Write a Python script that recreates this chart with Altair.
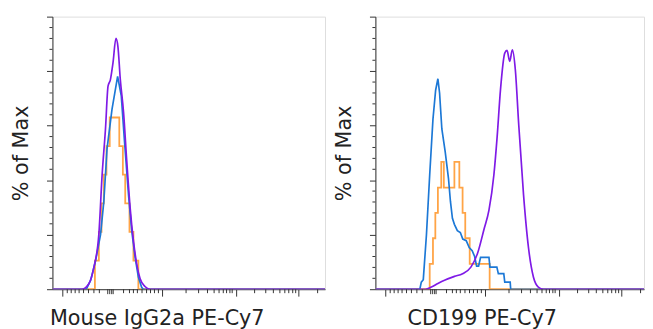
import altair as alt
import pandas as pd

# x positions are in biexponential display units (0 = left edge of the plot, 276 = right edge)
# y values are "% of Max"

# ---- Left panel: Mouse IgG2a PE-Cy7 ----
L_purple_x = [0, 30, 37, 42, 47, 50.3, 53.7, 56.3, 58.7, 61.3, 64.3, 66.3, 68.7, 72, 75.3, 78.7, 82, 85.3, 88.7, 93.7, 98.7, 276]
L_purple_y = [0, 0, 2.1, 8.1, 20.2, 41.9, 58.8, 74.5, 76.9, 83, 92, 89, 77, 64.9, 46.7, 29.8, 17.8, 9.3, 3.9, 1, 0, 0]

L_blue_x = [0, 34.3, 38.7, 43.7, 48.7, 52, 55.3, 60.3, 66, 69.7, 73, 77, 80.3, 83.7, 87, 90.3, 92, 276]
L_blue_y = [0, 0, 3.3, 10.5, 20, 32, 51.6, 66, 78.1, 70.9, 54, 34.7, 21.4, 11.7, 4.5, 0.7, 0, 0]

L_orange_x = [0, 43, 47, 49.7, 52, 54.7, 58, 67.7, 71.3, 73.7, 78, 82, 87, 276]
L_orange_y = [0, 10.5, 21, 31.5, 42, 52.5, 63, 52.5, 42, 31.5, 21, 10.5, 0, 0]

# ---- Right panel: CD199 PE-Cy7 ----
R_purple_x = [0, 50.7, 56.7, 63.3, 70, 80, 88.3, 96.7, 103.3, 110, 115, 120, 123.3, 126.7, 131, 133.3, 136, 138.7, 141.7, 145, 150, 155, 160, 165, 170, 272]
R_purple_y = [0, 0, 0.8, 2.1, 3.3, 4.7, 5.7, 8.1, 13, 22, 29, 42, 56, 73.3, 86.6, 87.6, 83.6, 87.8, 80.5, 61.2, 34.7, 15.3, 4.5, 0.8, 0, 0]

R_blue_x = [0, 45, 46.5, 48.5, 51.7, 55, 58.3, 61, 63.3, 65, 67.3, 70.7, 74, 76, 78, 80, 83, 86, 88.5, 92, 95, 98, 100.5,
            102.5, 104.5, 106.5, 115, 116, 123, 124.5, 130, 131, 136.5, 137, 272]
R_blue_y = [0, 0, 2.6, 3.5, 20, 42, 62.4, 73, 77.2, 72, 58.8, 50.4, 40.7, 32.2, 26, 23.8, 21.5, 20.8, 18.4, 17.8, 15.3, 14.1, 12,
            8.5, 8.5, 11.7, 11.7, 8.1, 8.1, 5.7, 5.7, 2.6, 2.6, 0, 0]

R_orange_x = [0, 55, 58.3, 60.7, 63.3, 66.7, 69.3, 80, 85, 88.3, 91, 95.5, 115.7, 272]
R_orange_y = [0, 9.3, 18.7, 28, 37.3, 46.7, 37.3, 46.7, 37.3, 28, 18.7, 9.3, 0, 0]

# ---- Axis ticks (biexponential decades) ----
x_major = [9.5, 111, 185.5, 249]
x_zero = [56, 58, 60, 61.5]
x_minor = [15, 19, 23, 27, 31.5, 36.5, 42, 47.5,
           72, 78, 82, 86, 90.7, 95.3, 99.3, 103.3, 107.3,
           135.3, 148, 157, 163.7, 168.7, 173, 176.3, 179.7, 182,
           204.7, 216, 223.7, 230.3, 235.3, 239.3, 243.3, 246.3, 268.5]
y_major = [0, 20, 40, 60, 80, 100]
y_minor = [v for v in range(4, 100, 4) if v % 20 != 0]

PURPLE = "#7F1AE6"
BLUE = "#1C78D6"
ORANGE = "#FFA446"
H = 276
FONT = "DejaVu Sans"


def panel(title_text, title_x, width, xmax, px, py, bx, by, ox, oy):
    xs = alt.Scale(domain=[0, xmax], nice=False, zero=False)
    ys = alt.Scale(domain=[0, 100], nice=False)
    xenc = alt.X("x:Q", scale=xs, axis=alt.Axis(
        values=x_major, tickSize=7, tickColor="#333", labels=False, grid=False,
        domainColor="#333", title=title_text, titleX=title_x, titleY=36,
        titleAlign="left", titleBaseline="alphabetic", titleFont=FONT,
        titleFontSize=21, titleFontWeight="normal", titleColor="#222"))
    yenc = alt.Y("y:Q", scale=ys, axis=alt.Axis(
        values=y_major, tickSize=6, tickColor="#333", labels=False, grid=False,
        domainColor="#333", title="% of Max", titleX=-25, titleY=H / 2,
        titleAngle=270, titleAlign="center", titleBaseline="alphabetic",
        titleFont=FONT, titleFontSize=21, titleFontWeight="normal", titleColor="#222"))

    def line(xv, yv, color, interp, sw):
        df = pd.DataFrame({"x": xv, "y": yv})
        return alt.Chart(df).mark_line(color=color, strokeWidth=sw, interpolate=interp, clip=True).encode(x=xenc, y=yenc)

    minor_x = alt.Chart(pd.DataFrame({"x": x_minor})).mark_rule(color="#333", strokeWidth=1).encode(
        x=xenc, y=alt.value(H), y2=alt.value(H + 4))
    zero_x = alt.Chart(pd.DataFrame({"x": x_zero})).mark_rule(color="#333", strokeWidth=1).encode(
        x=xenc, y=alt.value(H), y2=alt.value(H + 5))
    minor_y = alt.Chart(pd.DataFrame({"y": y_minor})).mark_rule(color="#333", strokeWidth=1).encode(
        y=yenc, x=alt.value(-3), x2=alt.value(0))

    return alt.layer(
        line(ox, oy, ORANGE, "step-after", 1.8),
        line(bx, by, BLUE, "linear", 1.7),
        line(px, py, PURPLE, "monotone", 1.7),
        minor_x, zero_x, minor_y,
    ).properties(width=width, height=H)


left = panel("Mouse IgG2a PE-Cy7", -3, 276, 276, L_purple_x, L_purple_y, L_blue_x, L_blue_y, L_orange_x, L_orange_y)
right = panel("CD199 PE-Cy7", 32, 272, 272, R_purple_x, R_purple_y, R_blue_x, R_blue_y, R_orange_x, R_orange_y)

chart = alt.hconcat(left, right, spacing=51, bounds="flush").properties(
    autosize=alt.AutoSizeParams(type="none"),
    padding={"left": 45, "top": 5, "right": 600, "bottom": 316},
).configure_view(stroke="#666", strokeWidth=1).configure(background="white")

chart.save("out.html", embed_options={"renderer": "svg", "actions": False})
